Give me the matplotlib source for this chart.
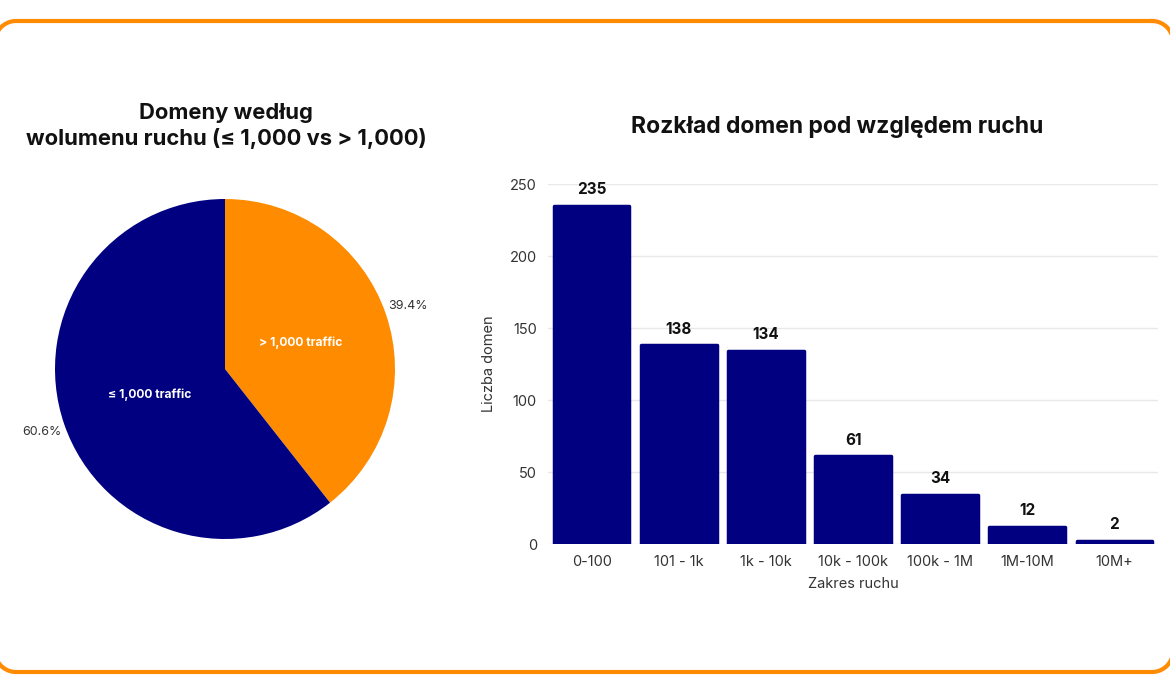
import numpy as np
import matplotlib.pyplot as plt

#--Data--#
pie_labels = ["> 1,000 traffic", "≤ 1,000 traffic"]
pie_share = [39.4, 60.6]

ranges = ["0-100", "101 - 1k", "1k - 10k", "10k - 100k", "100k - 1M", "1M-10M", "10M+"]
domain_counts = [235, 138, 134, 61, 34, 12, 2]
y_ticks = [0, 50, 100, 150, 200, 250]

NAVY = "#000080"
ORANGE = "#FF8C00"

plt.rcParams['font.family'] = ['Inter', 'DejaVu Sans']

W, H = 1170, 694
fig = plt.figure(figsize=(W / 100, H / 100), dpi=100)

# orange rounded frame, drawn in pixel units (y down) on a background axes
bg = fig.add_axes([0, 0, 1, 1], zorder=-1)
bg.set_xlim(0, W)
bg.set_ylim(H, 0)
bg.axis('off')
x0, x1, y0, y1, r = -5, 1173, 21, 672, 21
corners = [(x1 - r, y0 + r, -90, 0), (x1 - r, y1 - r, 0, 90),
           (x0 + r, y1 - r, 90, 180), (x0 + r, y0 + r, 180, 270)]
fx, fy = [], []
for cx, cy, a0, a1 in corners:
    t = np.radians(np.linspace(a0, a1, 20))
    fx.extend(cx + r * np.cos(t))
    fy.extend(cy + r * np.sin(t))
fx.append(fx[0])
fy.append(fy[0])
bg.plot(fx, fy, color=ORANGE, linewidth=3, solid_joinstyle='round')

#--Pie--#
ax1 = fig.add_axes([55 / W, 1 - 539 / H, 340 / W, 340 / H])
wedges, texts, autotexts = ax1.pie(
    pie_share, labels=pie_labels, colors=[ORANGE, NAVY], startangle=90,
    counterclock=False, autopct='%1.1f%%', pctdistance=1.14,
    labeldistance=0.47, wedgeprops=dict(linewidth=0))
for t in texts:
    t.set_color("white")
    t.set_fontsize(8.7)
    t.set_fontweight("bold")
    t.set_ha("center")
for t in autotexts:
    t.set_color("#333333")
    t.set_fontsize(9)
ax1.set_xlim(-1, 1)
ax1.set_ylim(-1, 1)
ax1.set_aspect('equal')
fig.text(226 / W, 1 - 126 / H, "Domeny według\nwolumenu ruchu (≤ 1,000 vs > 1,000)",
         ha="center", va="center", fontsize=15.8, fontweight="bold",
         linespacing=1.35, color="#111111")

#--Bars--#
ax2 = fig.add_axes([548 / W, 1 - 544 / H, 610 / W, 360 / H])
x = range(len(ranges))
ax2.bar(x, domain_counts, width=0.87, color=NAVY, edgecolor=NAVY,
        linewidth=2.5, joinstyle='round', zorder=3)
for xi, v in zip(x, domain_counts):
    ax2.text(xi, v + 6, str(v), ha="center", va="bottom", fontsize=11,
             fontweight="bold", color="#111111", clip_on=False)
ax2.set_xlim(-0.5, len(ranges) - 0.5)
ax2.set_ylim(0, 250)
ax2.set_yticks(y_ticks)
ax2.set_xticks(list(x))
ax2.set_xticklabels(ranges)
ax2.grid(axis='y', color="#e8e8e8", linewidth=1, zorder=0)
for s in ax2.spines.values():
    s.set_visible(False)
ax2.tick_params(length=0, labelsize=10.5, labelcolor="#333333", pad=8)
ax2.set_xlabel("Zakres ruchu", fontsize=10.5, color="#333333", labelpad=6)
ax2.set_ylabel("Liczba domen", fontsize=10.5, color="#333333", labelpad=10)
fig.text(837 / W, 1 - 127 / H, "Rozkład domen pod względem ruchu",
         ha="center", va="center", fontsize=16.5, fontweight="bold",
         color="#111111")

fig.savefig("out.png", dpi=100, facecolor="white")
